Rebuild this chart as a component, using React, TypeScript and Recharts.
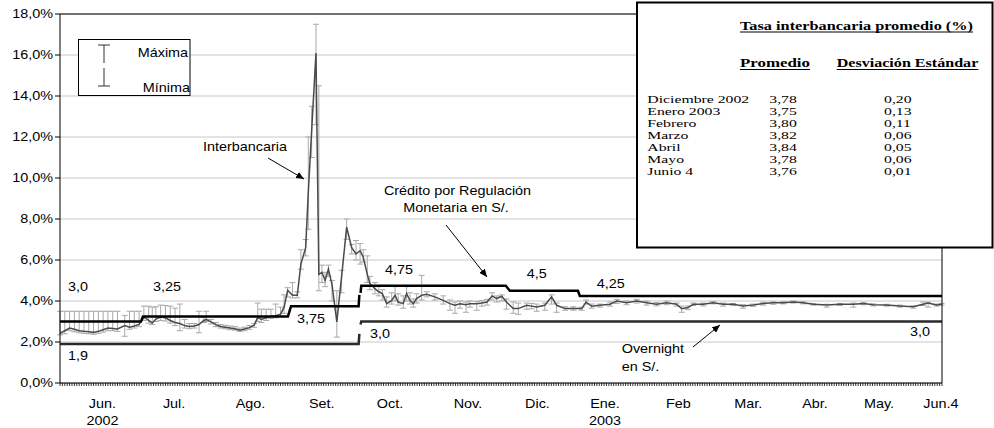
import React from 'react';
import { ComposedChart, Line, XAxis, YAxis, CartesianGrid, ErrorBar } from 'recharts';

const SANS = '"Liberation Sans", Arial, Helvetica, sans-serif';
const SERIF = '"Liberation Serif", "Times New Roman", Times, serif';

// x = calendar days since 1 Jun 2002 (4 Jun 2003 = 368)
const ibDay = [
  0, 2, 4, 6, 8, 10, 12, 14, 16, 18, 20, 22, 24, 27, 29, 31, 33,
  35, 37, 38.5, 40, 42, 44, 46, 48, 50, 52, 54, 56, 58, 60, 61, 63, 65, 67,
  69, 71, 73, 75, 77, 79, 81, 82.5, 84, 86, 88, 90, 92, 93.5, 95, 97, 99,
  100.5, 102.5, 103.6, 105, 106.8, 108, 109.3, 110.6, 112, 113.5, 115.5, 117.5, 119.6, 121.7, 123.5,
  125.2, 126.5, 128.2, 129.3, 131.4, 133, 134.5, 136.3, 138.4, 139.8, 141.1, 143.2, 144.6, 146, 147.4, 148.8, 150.9, 153, 156.4, 159.9, 162.7, 164.8,
  166.9, 169.4, 171, 173.9, 176, 178.2, 180.3, 182.2, 184.3, 186.3, 189.1, 191.2,
  194.7, 196.8, 198.9, 202.3, 205.1, 207.2, 210.7, 214.2, 217.7,
  219.5, 221.8, 225.3, 229.5, 232.3, 236.4, 240.6, 244.8, 248.9, 253.1,
  257.3, 259.4, 262, 264.2, 268.4, 272.5, 276.7, 280.9,
  285, 289.2, 293.4, 297.6, 301.8, 306,
  310.1, 314.3, 319.9, 325.4, 331,
  335.2, 339.3, 344.9, 350.4, 356, 360.1, 362.2, 365.7, 367.8,
];
const ibAvg = [
  2.42, 2.55, 2.68, 2.62, 2.55, 2.52, 2.5, 2.47, 2.52, 2.6, 2.68, 2.66, 2.64, 2.8, 2.72, 2.78, 2.86,
  3.22, 3.05, 2.93, 3.12, 3.22, 3.18, 3.05, 2.95, 2.9, 2.8, 2.76, 2.78, 2.85, 3.05, 3.1, 2.98, 2.85, 2.76,
  2.72, 2.68, 2.65, 2.58, 2.63, 2.7, 2.82, 3.2, 3.1, 3.18, 3.25, 3.28, 3.35, 3.7, 4.52, 4.28, 4.28,
  5.8, 6.6, 9.3, 12.3, 16.1, 5.3, 5.4, 5.0, 5.55, 4.8, 2.98, 5.2, 7.6, 6.6, 6.3,
  6.45, 6.15, 5.3, 4.85, 4.6, 4.45, 4.36, 3.87, 4.03, 4.28, 3.95, 3.87, 4.36, 4.03, 3.87, 4.12, 4.28, 4.33, 4.2, 4.03, 3.87, 3.8,
  3.87, 3.82, 3.87, 3.87, 3.9, 3.95, 4.25, 4.12, 4.23, 3.95, 3.63, 3.63,
  3.79, 3.75, 3.71, 3.79, 4.2, 3.79, 3.63, 3.63, 3.63,
  3.95, 3.74, 3.79, 3.84, 4.0, 3.92, 4.0, 3.92, 3.84, 3.92,
  3.84, 3.62, 3.68, 3.84, 3.84, 3.92, 3.84, 3.84,
  3.76, 3.8, 3.88, 3.92, 3.92, 3.95,
  3.92, 3.84, 3.8, 3.84, 3.84,
  3.88, 3.82, 3.8, 3.76, 3.72, 3.84, 3.9, 3.8, 3.84,
];
const ibMax = [
  3.5, 3.5, 3.5, 3.5, 3.5, 3.5, 3.5, 3.5, 3.5, 3.5, 3.5, 3.5, 3.5, 3.3, 3.5, 3.5, 3.5,
  3.75, 3.75, 3.7, 3.72, 3.8, 3.78, 3.75, 3.65, 3.85, 3.1, 2.9, 2.9, 3.5, 3.2, 3.5, 3.1, 2.95, 2.85,
  2.82, 2.78, 2.75, 2.68, 2.72, 2.8, 2.9, 3.9, 3.6, 3.6, 3.6, 3.85, 3.7, 4.3, 4.65, 4.9, 4.45,
  6.5, 7.0, 12.0, 13.5, 17.5, 14.5, 5.75, 5.4, 5.75, 5.0, 4.5, 5.5, 8.0, 6.75, 6.95,
  6.8, 6.5, 6.2, 5.2, 4.9, 4.7, 4.55, 4.2, 4.4, 4.7, 4.35, 4.25, 4.7, 4.4, 4.1, 4.35, 5.25, 4.45, 4.35, 4.25, 4.05, 3.95,
  4.0, 3.95, 4.0, 3.98, 4.02, 4.08, 4.4, 4.25, 4.3, 4.1, 3.95, 3.9,
  3.9, 3.88, 3.85, 3.9, 4.3, 3.9, 3.72, 3.72, 3.7,
  4.05, 3.85, 3.85, 3.95, 4.08, 4.0, 4.08, 4.0, 3.92, 4.0,
  3.9, 3.75, 3.76, 3.9, 3.9, 3.98, 3.9, 3.88,
  3.82, 3.85, 3.94, 3.96, 3.96, 4.0,
  3.96, 3.88, 3.84, 3.88, 3.9,
  3.92, 3.86, 3.84, 3.8, 3.76, 3.95, 3.94, 3.85, 3.88,
];
const ibMin = [
  2.35, 2.4, 2.55, 2.5, 2.45, 2.42, 2.4, 2.38, 2.42, 2.48, 2.55, 2.55, 2.52, 2.28, 2.62, 2.68, 2.75,
  3.05, 2.92, 2.85, 3.0, 3.05, 3.02, 2.92, 2.8, 2.55, 2.68, 2.65, 2.68, 2.45, 2.95, 3.0, 2.88, 2.75, 2.68,
  2.64, 2.6, 2.58, 2.52, 2.55, 2.62, 2.72, 3.0, 2.95, 3.05, 3.15, 3.18, 3.25, 3.4, 4.2, 4.15, 4.15,
  5.55, 6.2, 7.5, 11.0, 12.6, 4.5, 4.9, 4.7, 5.2, 4.0, 2.24, 4.4, 7.0, 6.3, 6.0,
  5.8, 5.9, 4.9, 4.55, 4.35, 4.25, 4.05, 3.7, 3.85, 4.0, 3.8, 3.65, 4.0, 3.85, 3.7, 3.9, 4.05, 4.2, 4.05, 3.85, 3.55, 3.4,
  3.65, 3.45, 3.7, 3.55, 3.75, 3.8, 4.05, 3.95, 4.0, 3.6, 3.4, 3.35,
  3.6, 3.62, 3.5, 3.55, 3.85, 3.45, 3.55, 3.55, 3.55,
  3.85, 3.65, 3.7, 3.75, 3.88, 3.82, 3.9, 3.8, 3.76, 3.82,
  3.75, 3.45, 3.58, 3.78, 3.76, 3.86, 3.75, 3.78,
  3.65, 3.74, 3.8, 3.84, 3.86, 3.9,
  3.86, 3.8, 3.7, 3.78, 3.7,
  3.82, 3.76, 3.75, 3.7, 3.65, 3.78, 3.7, 3.75, 3.8,
];

// Crédito por Regulación Monetaria (null = gap in the line)
const creditDay = [0, 33.8, 34.6, 95.1, 96.4, 124.6, 124.9, 125.2, 125.4, 125.7, 186.0, 187.7, 216.1, 216.9, 368];
const creditRate = [3.0, 3.0, 3.25, 3.25, 3.75, 3.75, 4.3, null, 4.4, 4.75, 4.75, 4.5, 4.5, 4.25, 4.25];
// Overnight
const overnightDay = [0, 124.6, 124.9, 125.2, 125.4, 125.7, 368];
const overnightRate = [1.9, 1.9, 2.4, null, 2.85, 3.0, 3.0];

const yTicks = [0, 2, 4, 6, 8, 10, 12, 14, 16, 18];
const monthLabel = ['Jun.', 'Jul.', 'Ago.', 'Set.', 'Oct.', 'Nov.', 'Dic.', 'Ene.', 'Feb', 'Mar.', 'Abr.', 'May.', 'Jun.4'];
const monthYear = ['2002', '', '', '', '', '', '', '2003', '', '', '', '', ''];
const monthPos = [17.7, 47.6, 79.5, 109.2, 137.7, 170.2, 199.2, 227.4, 258.0, 287.2, 315.0, 341.7, 367.5];
const minorTicks = Array.from({ length: 369 }, (_, i) => i);

const tableTitle = 'Tasa interbancaria promedio (%)';
const tableHead = ['Promedio', 'Desviación Estándar'];
const tableMonths = ['Diciembre 2002', 'Enero 2003', 'Febrero', 'Marzo', 'Abril', 'Mayo', 'Junio 4'];
const tableAvg = [3.78, 3.75, 3.8, 3.82, 3.84, 3.78, 3.76];
const tableStd = [0.2, 0.13, 0.11, 0.06, 0.05, 0.06, 0.01];

const ibData = ibDay.map((d, i) => ({ d, v: ibAvg[i], err: [ibAvg[i] - ibMin[i], ibMax[i] - ibAvg[i]] }));
const creditData = creditDay.map((d, i) => ({ d, r: creditRate[i] }));
const overnightData = overnightDay.map((d, i) => ({ d, r: overnightRate[i] }));

const comma = (v: number, n: number) => v.toFixed(n).replace('.', ',');

const T = ({ x, y, children, anchor = 'start', size = 12, sx = 1.2, family = SANS, weight = 'normal' }: any) => (
  <text
    transform={`translate(${x},${y}) scale(${sx},1)`}
    textAnchor={anchor}
    fontSize={size}
    fontFamily={family}
    fontWeight={weight}
    fill="#000"
  >
    {children}
  </text>
);

const YTick = (p: any) => (
  <T x={p.x} y={p.y + 4.3} anchor="end">{comma(p.payload.value, 1) + '%'}</T>
);

const XTick = (p: any) => {
  const idx = p.index ?? 0;
  if (idx < minorTicks.length) {
    return <line x1={p.x} x2={p.x} y1={p.y} y2={p.y + 3} stroke="#000" strokeWidth={0.8} />;
  }
  const k = idx - minorTicks.length;
  return (
    <g>
      <T x={p.x} y={p.y + 25} anchor="middle">{monthLabel[k]}</T>
      {monthYear[k] ? <T x={p.x} y={p.y + 42} anchor="middle">{monthYear[k]}</T> : null}
    </g>
  );
};

export default function App() {
  return (
    <div style={{ position: 'absolute', left: 0, top: 0, width: 994, height: 428, background: '#fff' }}>
      <ComposedChart width={994} height={428} margin={{ top: 14, right: 52, bottom: 0, left: 0 }}>
        <CartesianGrid horizontal vertical={false} stroke="#c8c8c8" strokeWidth={1} />
        <XAxis
          type="number"
          dataKey="d"
          domain={[0, 368]}
          allowDataOverflow
          ticks={[...minorTicks, ...monthPos]}
          interval={0}
          tickLine={false}
          tickSize={0}
          tickMargin={0}
          axisLine={{ stroke: '#000', strokeWidth: 1 }}
          tick={(p: any) => <XTick {...p} />}
          height={45}
        />
        <YAxis
          type="number"
          domain={[0, 18]}
          ticks={yTicks}
          interval={0}
          width={60}
          tickSize={5}
          tickMargin={2}
          axisLine={{ stroke: '#000', strokeWidth: 1 }}
          tickLine={{ stroke: '#000' }}
          tick={(p: any) => <YTick {...p} />}
        />
        <Line data={ibData} dataKey="v" name="bars" stroke="none" dot={false} activeDot={false} isAnimationActive={false}>
          <ErrorBar dataKey="err" width={3} stroke="#a9a9a9" strokeWidth={1} direction="y" isAnimationActive={false} />
        </Line>
        <Line data={ibData} dataKey="v" name="Interbancaria" type="linear" stroke="#4a4a4a" strokeWidth={1.5} dot={false} activeDot={false} isAnimationActive={false} />
        <Line data={creditData} dataKey="r" name="Crédito" type="linear" stroke="#000" strokeWidth={2.5} dot={false} activeDot={false} connectNulls={false} isAnimationActive={false} />
        <Line data={overnightData} dataKey="r" name="Overnight" type="linear" stroke="#2a2a2a" strokeWidth={2.5} dot={false} activeDot={false} connectNulls={false} isAnimationActive={false} />
      </ComposedChart>

      <svg width={994} height={428} style={{ position: 'absolute', left: 0, top: 0, pointerEvents: 'none' }}>
        <defs>
          <marker id="arr" viewBox="0 0 8 7" refX="8" refY="3.5" markerWidth="8" markerHeight="7" markerUnits="userSpaceOnUse" orient="auto">
            <path d="M0,0 L8,3.5 L0,7 z" fill="#000" />
          </marker>
        </defs>
        {/* plot frame */}
        <line x1={60} y1={14} x2={942} y2={14} stroke="#000" strokeWidth={1} />
        <line x1={942} y1={14} x2={942} y2={383} stroke="#000" strokeWidth={1} />

        {/* legend */}
        <rect x={78.5} y={39.5} width={111.5} height={56} fill="#fff" stroke="#000" strokeWidth={1} />
        <line x1={104} y1={45} x2={104} y2={63} stroke="#333" strokeWidth={1} />
        <line x1={98} y1={45} x2={110} y2={45} stroke="#333" strokeWidth={1} />
        <line x1={104} y1={68} x2={104} y2={86} stroke="#333" strokeWidth={1} />
        <line x1={98} y1={86} x2={110} y2={86} stroke="#333" strokeWidth={1} />
        <T x={137.7} y={57.3}>Máxima</T>
        <T x={142.7} y={92.3}>Mínima</T>

        {/* rate labels */}
        <T x={68} y={291}>3,0</T>
        <T x={153} y={291}>3,25</T>
        <T x={68} y={360}>1,9</T>
        <T x={297} y={322.6}>3,75</T>
        <T x={385} y={274.3}>4,75</T>
        <T x={526.7} y={277.6}>4,5</T>
        <T x={596.7} y={287.6}>4,25</T>
        <T x={370} y={337.6}>3,0</T>
        <T x={910} y={336}>3,0</T>

        {/* annotations */}
        <T x={245} y={150.5} anchor="middle">Interbancaria</T>
        <line x1={268} y1={158} x2={304} y2={179} stroke="#000" strokeWidth={1} markerEnd="url(#arr)" />
        <T x={457.5} y={194.5} anchor="middle">Crédito por Regulación</T>
        <T x={456} y={211.5} anchor="middle">Monetaria en S/.</T>
        <line x1={446} y1={225} x2={487} y2={277} stroke="#000" strokeWidth={1} markerEnd="url(#arr)" />
        <T x={621.7} y={353}>Overnight</T>
        <T x={621.7} y={370.5}>en S/.</T>
        <line x1={693} y1={347} x2={720} y2={325} stroke="#000" strokeWidth={1} markerEnd="url(#arr)" />

        {/* table box */}
        <rect x={637} y={2.5} width={355.5} height={245} fill="#fff" stroke="#000" strokeWidth={2} />
        <text x={740} y={29.5} textLength={233} lengthAdjust="spacingAndGlyphs" fontFamily={SERIF} fontWeight="bold" fontSize={12.5} fill="#000">{tableTitle}</text>
        <line x1={740} x2={973} y1={32} y2={32} stroke="#000" strokeWidth={1} />
        <text x={740} y={67} textLength={70} lengthAdjust="spacingAndGlyphs" fontFamily={SERIF} fontWeight="bold" fontSize={12.5} fill="#000">{tableHead[0]}</text>
        <line x1={740} x2={810} y1={69.5} y2={69.5} stroke="#000" strokeWidth={1} />
        <text x={836.7} y={67} textLength={141.6} lengthAdjust="spacingAndGlyphs" fontFamily={SERIF} fontWeight="bold" fontSize={12.5} fill="#000">{tableHead[1]}</text>
        <line x1={836.7} x2={978.3} y1={69.5} y2={69.5} stroke="#000" strokeWidth={1} />
        {tableMonths.map((m, i) => (
          <g key={m}>
            <T x={647.3} y={102.5 + 12 * i} family={SERIF} size={10.8} sx={1.46}>{m}</T>
            <T x={769.3} y={102.5 + 12 * i} family={SERIF} size={10.8} sx={1.46}>{comma(tableAvg[i], 2)}</T>
            <T x={884} y={102.5 + 12 * i} family={SERIF} size={10.8} sx={1.46}>{comma(tableStd[i], 2)}</T>
          </g>
        ))}
      </svg>
    </div>
  );
}
